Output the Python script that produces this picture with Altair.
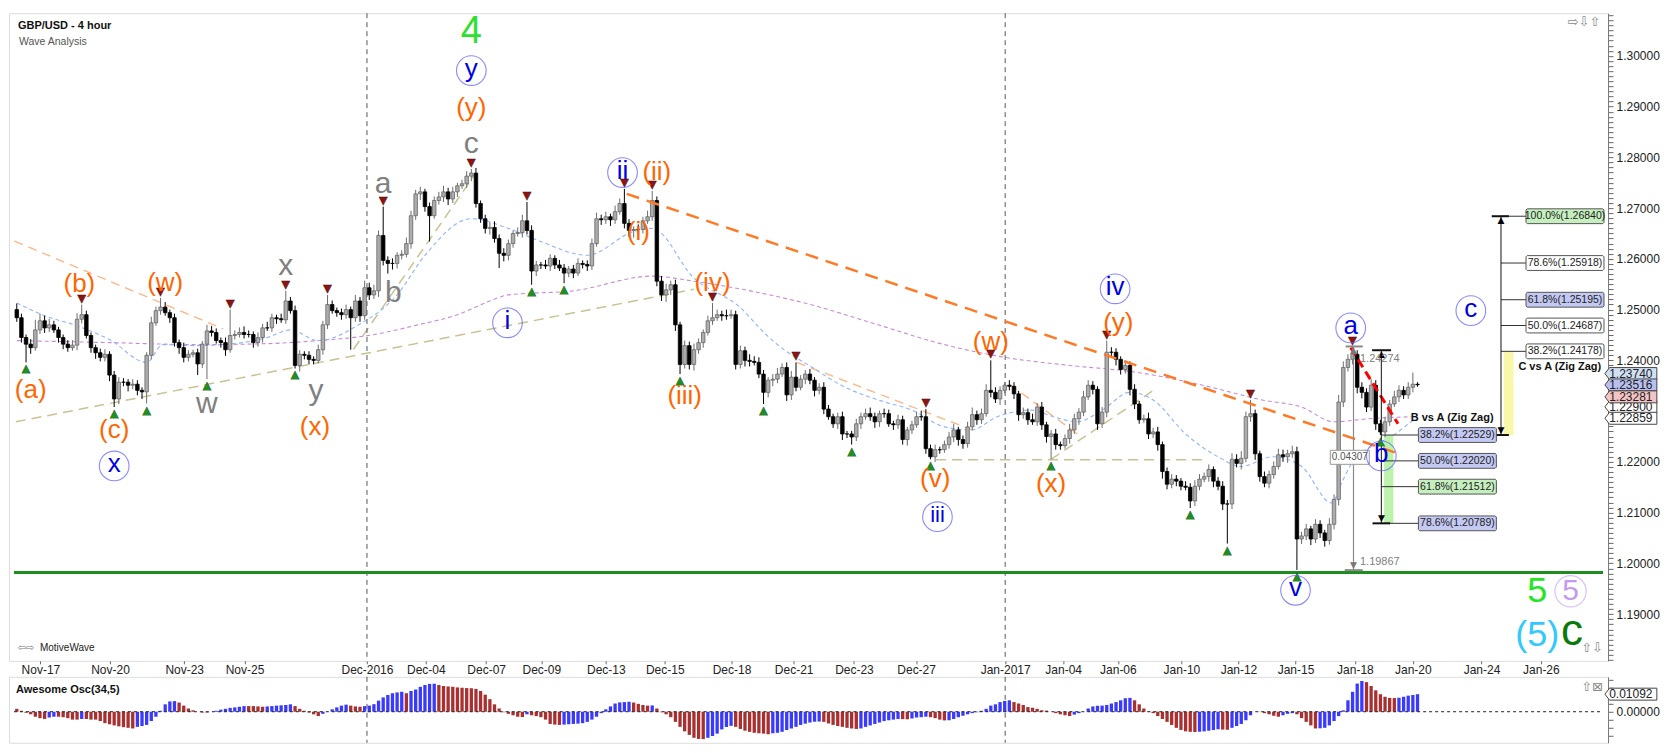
import altair as alt
import pandas as pd

BASE = 1.2
PIP = 0.0001
FIRST_OPEN = 500

# ---- candle closes, in pips above 1.2000 (one value per 4-hour candle) ----
close_pips = [
    484, 445, 432, 425, 460, 478, 464, 470, 460, 445,
    432, 425, 430, 481, 490, 449, 425, 415, 406, 412,
    371, 324, 357, 357, 351, 353, 341, 338, 410, 474,
    498, 505, 494, 484, 435, 425, 406, 412, 415, 393,
    432, 458, 455, 439, 435, 421, 449, 451, 455, 451,
    451, 435, 445, 464, 464, 484, 482, 480, 517, 498,
    390, 412, 410, 402, 400, 421, 470, 510, 498, 494,
    490, 500, 484, 517, 488, 543, 529, 537, 646, 597,
    591, 591, 607, 609, 630, 685, 728, 732, 703, 685,
    715, 722, 732, 718, 732, 744, 748, 763, 769, 709,
    679, 660, 662, 640, 611, 607, 630, 650, 652, 675,
    656, 576, 588, 588, 586, 601, 588, 582, 572, 580,
    572, 591, 589, 586, 630, 679, 677, 683, 677, 693,
    709, 670, 656, 658, 658, 675, 683, 715, 556, 529,
    539, 549, 470, 392, 429, 392, 421, 435, 455, 478,
    484, 490, 488, 488, 490, 392, 419, 400, 398, 396,
    373, 337, 361, 363, 373, 386, 332, 367, 347, 363,
    373, 361, 341, 347, 304, 289, 275, 289, 255, 255,
    249, 275, 289, 295, 289, 279, 295, 295, 275, 273,
    283, 244, 263, 273, 289, 289, 226, 210, 224, 224,
    234, 249, 263, 244, 236, 269, 293, 283, 295, 341,
    337, 324, 341, 351, 349, 334, 293, 297, 283, 279,
    308, 273, 250, 255, 234, 232, 246, 263, 285, 298,
    328, 351, 343, 275, 298, 416, 416, 402, 382, 390,
    343, 314, 283, 285, 255, 259, 234, 181, 156, 166,
    162, 152, 150, 123, 152, 166, 171, 185, 162, 152,
    117, 117, 205, 197, 207, 289, 295, 216, 171, 158,
    175, 191, 214, 210, 216, 220, 48, 54, 68, 48,
    77, 60, 45, 77, 126, 318, 386, 402, 412, 347,
    337, 308, 351, 275, 259, 279, 314, 328, 341, 332,
    347, 353, 352,
]
# upper wick length (pips above body top)
wick_up = [
    12, 8, 6, 10, 20, 14, 10, 12, 8, 6,
    6, 8, 10, 12, 20, 8, 6, 6, 8, 10,
    6, 8, 10, 8, 6, 10, 8, 6, 6, 12,
    8, 18, 10, 6, 8, 6, 10, 8, 6, 8,
    6, 12, 10, 8, 6, 10, 51, 8, 10, 12,
    8, 6, 10, 8, 12, 8, 6, 10, 20, 8,
    10, 8, 6, 8, 6, 10, 8, 19, 8, 6,
    8, 10, 6, 12, 8, 14, 10, 12, 10, 57,
    8, 10, 6, 8, 12, 10, 8, 10, 6, 8,
    8, 10, 12, 8, 10, 6, 8, 10, 8, 10,
    6, 8, 10, 12, 8, 10, 8, 6, 10, 12,
    37, 10, 8, 6, 10, 8, 6, 10, 8, 6,
    8, 10, 6, 8, 10, 12, 8, 10, 6, 12,
    10, 29, 8, 6, 10, 8, 12, 19, 8, 10,
    12, 8, 10, 6, 10, 8, 12, 8, 6, 10,
    29, 10, 8, 12, 10, 8, 10, 8, 12, 10,
    10, 8, 6, 10, 12, 8, 10, 12, 29, 8,
    8, 10, 6, 8, 10, 8, 6, 8, 10, 6,
    6, 10, 8, 10, 12, 8, 6, 10, 8, 6,
    10, 8, 6, 8, 10, 12, 15, 8, 10, 6,
    8, 10, 12, 6, 8, 10, 14, 8, 10, 12,
    59, 10, 8, 6, 10, 8, 6, 10, 8, 12,
    8, 10, 6, 8, 10, 6, 8, 12, 10, 8,
    12, 10, 8, 6, 10, 23, 10, 8, 6, 10,
    8, 10, 6, 8, 12, 8, 10, 6, 8, 10,
    8, 6, 10, 8, 12, 10, 8, 10, 6, 8,
    10, 8, 12, 10, 14, 10, 27, 8, 6, 10,
    8, 10, 12, 10, 8, 12, 10, 8, 10, 6,
    10, 8, 6, 12, 10, 14, 12, 10, 15, 8,
    10, 8, 12, 10, 8, 10, 8, 12, 10, 8,
    10, 23, 4,
]
# lower wick length (pips below body bottom)
wick_dn = [
    8, 10, 36, 12, 6, 8, 10, 8, 6, 10,
    10, 8, 6, 10, 8, 6, 10, 12, 8, 8,
    12, 16, 10, 8, 12, 8, 10, 14, 23, 8,
    6, 8, 6, 10, 8, 12, 10, 8, 6, 22,
    8, 69, 8, 6, 10, 12, 6, 8, 6, 8,
    6, 10, 8, 10, 6, 8, 10, 6, 8, 6,
    6, 12, 8, 10, 8, 6, 10, 8, 6, 8,
    10, 8, 63, 8, 12, 8, 10, 8, 12, 10,
    20, 12, 10, 8, 6, 10, 8, 12, 10, 51,
    6, 8, 10, 12, 8, 10, 6, 8, 10, 8,
    8, 10, 12, 8, 29, 12, 10, 8, 6, 10,
    8, 27, 10, 8, 6, 10, 8, 6, 20, 8,
    10, 6, 8, 10, 8, 6, 10, 8, 12, 8,
    6, 10, 12, 14, 10, 8, 6, 8, 10, 12,
    14, 10, 12, 19, 8, 10, 12, 8, 10, 6,
    8, 6, 10, 8, 6, 10, 8, 12, 10, 6,
    8, 23, 10, 12, 8, 6, 12, 10, 8, 6,
    10, 8, 12, 8, 10, 6, 8, 10, 12, 8,
    15, 8, 10, 6, 8, 12, 10, 8, 6, 10,
    8, 10, 12, 8, 6, 8, 10, 5, 10, 8,
    6, 8, 10, 12, 10, 8, 6, 10, 8, 6,
    10, 8, 12, 6, 8, 10, 12, 8, 10, 6,
    8, 10, 12, 45, 10, 8, 6, 10, 8, 12,
    8, 6, 10, 12, 8, 10, 8, 12, 10, 8,
    12, 10, 8, 6, 10, 8, 12, 14, 10, 8,
    10, 8, 6, 14, 10, 8, 6, 10, 12, 8,
    12, 78, 10, 8, 12, 8, 10, 12, 10, 8,
    10, 8, 6, 10, 12, 8, 61, 10, 8, 12,
    8, 10, 12, 8, 10, 12, 10, 8, 10, 12,
    12, 10, 8, 12, 6, 10, 8, 6, 10, 8,
    8, 10, 4,
]
# Awesome oscillator, units of 0.0001
ao_e4 = [
    18, 6, -7, -16, -31, -40, -45, -36, -31, -31,
    -34, -40, -49, -49, -45, -45, -49, -49, -58, -71,
    -78, -85, -91, -96, -100, -104, -94, -89, -82, -58,
    -31, 6, 46, 64, 66, 57, 38, 20, 9, 0,
    -5, -5, 0, 6, 13, 18, 24, 27, 31, 35,
    35, 35, 33, 31, 33, 35, 38, 40, 42, 46,
    35, 18, 6, -5, -16, -27, -13, 0, 15, 27,
    38, 44, 38, 33, 31, 35, 38, 47, 69, 89,
    104, 115, 120, 124, 115, 129, 138, 155, 166, 173,
    174, 166, 160, 157, 155, 151, 149, 147, 146, 142,
    129, 106, 78, 46, 20, -3, -13, -22, -31, -33,
    -16, -22, -27, -34, -49, -76, -80, -82, -80, -78,
    -76, -74, -71, -63, -49, -31, -9, 15, 33, 51,
    58, 60, 62, 57, 49, 42, 38, 39, 20, -3,
    -16, -34, -63, -94, -122, -144, -162, -169, -170, -162,
    -151, -136, -110, -95, -88, -94, -107, -118, -125, -131,
    -134, -136, -140, -134, -131, -125, -114, -104, -94, -82,
    -74, -67, -62, -61, -63, -73, -82, -89, -94, -100,
    -104, -107, -104, -94, -85, -76, -67, -58, -53, -49,
    -45, -46, -47, -42, -36, -34, -31, -34, -40, -49,
    -54, -53, -45, -34, -25, -16, -9, -3, 6, 18,
    38, 46, 60, 67, 71, 60, 51, 42, 29, 24,
    18, 9, 7, 0, -9, -16, -22, -27, -18, -9,
    0, 20, 33, 37, 38, 42, 51, 60, 71, 84,
    86, 71, 46, 20, 2, -9, -27, -45, -63, -82,
    -100, -113, -122, -125, -126, -124, -122, -118, -114, -109,
    -111, -112, -100, -89, -76, -53, -22, 0, -1, -9,
    -16, -25, -31, -22, -13, -9, -16, -40, -63, -85,
    -104, -103, -100, -85, -58, -27, 9, 71, 124, 175,
    191, 184, 160, 133, 109, 93, 86, 85, 87, 93,
    100, 104, 109,
]

# moving averages (candle index, pips)
blue_ma_i = [0, 6, 13, 20, 28, 31.5, 39, 44, 48.7, 54, 59, 65, 73.7, 82, 88, 98, 106, 113, 123, 133,
             137, 146, 156, 161.5, 164, 171.5, 178.6, 185.7, 193, 200, 205.8, 211.4, 218.6, 223.5, 228.5,
             234, 240, 245, 252, 259, 264, 270.7, 277, 283.5, 285.6, 287.8, 292, 296.4, 300.6, 302]
blue_ma_p = [513, 488, 468, 441, 396, 431, 429, 431, 435, 445, 460, 439, 470, 529, 607, 679, 660, 634, 607, 654,
             660, 562, 504, 451, 431, 386, 347, 322, 302, 269, 263, 289, 302, 289, 279,
             302, 337, 322, 255, 210, 191, 210, 191, 119, 158, 197, 230, 250, 279, 289]
purple_ma_i = [0, 20, 39, 54, 65, 75.8, 86.5, 95, 102, 106, 120, 137, 146, 157, 171.5, 185.7, 200, 213,
               227, 241, 255.7, 268.5, 277, 284, 291.4, 300.6]
purple_ma_p = [439, 435, 431, 433, 439, 449, 470, 490, 517, 529, 537, 566, 556, 539, 509, 470, 431, 406,
               390, 377, 351, 322, 308, 279, 285, 289]

# trend lines (i1, pips1, i2, pips2)
tan_lines = [(-0.2, 279, 146, 540), (72.6, 422, 98.6, 764), (198.2, 204, 256.3, 204), (223, 205, 245.4, 343)]
light_orange_lines = [(-0.5, 635, 44.5, 462), (168.2, 396, 207.1, 259), (214, 353, 229, 253)]
orange_lines = [(131.5, 728, 298, 216)]
red_lines = [(287.6, 425, 297.8, 275)]
support_level = 1.1982

# x-axis
tick_pos = [5.1, 20.1, 36.1, 49.1, 75.5, 88.2, 101.2, 113.1, 127.0, 139.7, 154.1, 167.5,
            180.5, 193.9, 213.1, 225.6, 237.4, 251.1, 263.4, 275.7, 288.5, 301.0, 315.8, 328.6]
tick_lbl = ["Nov-17", "Nov-20", "Nov-23", "Nov-25", "Dec-2016", "Dec-04", "Dec-07", "Dec-09",
            "Dec-13", "Dec-15", "Dec-18", "Dec-21", "Dec-23", "Dec-27", "Jan-2017", "Jan-04",
            "Jan-06", "Jan-10", "Jan-12", "Jan-15", "Jan-18", "Jan-20", "Jan-24", "Jan-26"]
divider_i = [75.5, 213.1]

# swing markers
low_idx = [2, 21, 28, 41, 60, 111, 118, 143, 161, 180, 197, 223, 253, 261, 276, 294]
high_idx = [14, 31, 46, 58, 67, 79, 98, 110, 131, 137, 150, 168, 196, 210, 235, 266, 288]

# wave labels
orange_t = ["(a)", "(b)", "(c)", "(w)", "(x)", "(y)", "(i)", "(ii)", "(iii)", "(iv)", "(v)", "(w)", "(x)", "(y)"]
orange_i = [3, 13.5, 21, 32, 64.3, 98, 134, 138, 144, 150, 198, 210, 223, 237.5]
orange_p = [341, 550, 263, 552, 269, 898, 653, 772, 330, 553, 166, 436, 156, 474]
gray_t = ["w", "x", "y", "a", "b", "c"]
gray_i = [41, 58, 64.5, 79, 81.2, 98]
gray_p = [310, 582, 335, 743, 529, 822]
circ_t = ["x", "y", "i", "ii", "iii", "iv", "v", "a", "b", "c"]
circ_i = [21, 98, 105.8, 130.6, 198.5, 236.8, 275.7, 287.6, 294.2, 313.5]
circ_p = [192, 971, 474, 770, 92, 541, -53, 464, 212, 498]

# fibonacci projections
cva_levels = [1.26840, 1.25918, 1.25195, 1.24687, 1.24178]
cva_text = ["100.0%(1.26840)", "78.6%(1.25918)", "61.8%(1.25195)", "50.0%(1.24687)", "38.2%(1.24178)"]
cva_fill = ["#c6efbf", "#ffffff", "#c3c9f3", "#ffffff", "#ffffff"]
bva_levels = [1.22529, 1.22020, 1.21512, 1.20789]
bva_text = ["38.2%(1.22529)", "50.0%(1.22020)", "61.8%(1.21512)", "78.6%(1.20789)"]
bva_fill = ["#c3c9f3", "#c3c9f3", "#c6efbf", "#c3c9f3"]
measure_top, measure_bot, measure_txt = 1.24274, 1.19867, "0.04307"

# price tags
tag_vals = [1.23740, 1.23516, 1.23281, 1.22859]
tag_fill = ["#cfe0f4", "#b9c0f0", "#f4c4c4", "#ffffff"]
tag_hidden = 1.22900
ao_tag = 0.01092

# ------------------------------------------------------------------
W, H, HO = 1600, 648, 66
XMAX = 342.0
TAGX = 348.0
FONT = "Liberation Sans"
XS = alt.Scale(domain=[-0.6, XMAX], nice=False, zero=False)
YS = alt.Scale(domain=[1.1808, 1.3084], nice=False, zero=False)
OS = alt.Scale(domain=[-0.0193, 0.0217], nice=False, zero=False)

xexpr = ("[" + ",".join(f"'{s}'" for s in tick_lbl) + "][indexof([" +
         ",".join(str(int(round(v * 10))) for v in tick_pos) + "], round(datum.value*10))]")
yticks = [round(1.181 + k * 0.001, 3) for k in range(128)]
yexpr = ("(abs(datum.value*100 - round(datum.value*100)) < 0.01 && abs(datum.value - 1.23) > 0.0005)"
         " ? format(datum.value, '.5f') : ''")

X_AXIS = alt.Axis(values=tick_pos, labelExpr=xexpr, title=None, grid=False, domain=False, tickSize=3,
                  tickColor="#666", labelFont=FONT, labelFontSize=12, labelColor="#222", labelPadding=1,
                  labelFlush=False, labelOverlap=False)
Y_AXIS = alt.Axis(orient="right", values=yticks, labelExpr=yexpr, title=None, grid=False, domainColor="#777",
                  tickSize=5, tickColor="#666", labelFont=FONT, labelFontSize=12, labelColor="#222",
                  labelPadding=3, labelFlush=False, labelOverlap=False)
O_AXIS = alt.Axis(orient="right", values=[-0.015, -0.01, -0.005, 0, 0.005, 0.01, 0.015, 0.02],
                  labelExpr="datum.value == 0 ? '0.00000' : ''", title=None, grid=False, domainColor="#777",
                  tickSize=5, tickColor="#666", labelFont=FONT, labelFontSize=12, labelColor="#222",
                  labelPadding=3, labelOverlap=False, labelFlush=False)


def px(v):
    return BASE + v * PIP


def xq(f="i"):
    return alt.X(f"{f}:Q", scale=XS, axis=X_AXIS)


def yq(f="p"):
    return alt.Y(f"{f}:Q", scale=YS, axis=Y_AXIS)


def oxq(f="i"):
    return alt.X(f"{f}:Q", scale=XS, axis=None)


def oyq(f="v"):
    return alt.Y(f"{f}:Q", scale=OS, axis=O_AXIS)


n = min(len(close_pips), len(wick_up), len(wick_dn))
rows = []
prev = FIRST_OPEN
for k in range(n):
    o, c = prev, close_pips[k]
    top, bot = max(o, c), min(o, c)
    up = c > o
    rows.append({"i": k, "btop": px(top), "bbot": px(bot), "hi": px(top + wick_up[k]),
                 "lo": px(bot - wick_dn[k]),
                 "wc": "#6c6c6c" if up else "#000000",
                 "bf": "#adadad" if up else "#000000",
                 "bs": "#666666" if up else "#000000"})
    prev = c
candles = pd.DataFrame(rows)


def seg_layer(segs, color, width, dash):
    r = []
    for k, (a, b, c, d) in enumerate(segs):
        r.append({"s": k, "i": a, "p": px(b)})
        r.append({"s": k, "i": c, "p": px(d)})
    return alt.Chart(pd.DataFrame(r)).mark_line(color=color, strokeWidth=width, strokeDash=dash).encode(
        x=xq(), y=yq(), detail="s:N")


def ma_layer(ii, pp, color):
    df = pd.DataFrame({"i": ii, "p": [px(v) for v in pp]})
    return alt.Chart(df).mark_line(color=color, strokeWidth=1.1, strokeDash=[4, 3],
                                   interpolate="monotone").encode(x=xq(), y=yq())


def label_layer(tt, ii, pp, color, size, dy=0, weight="normal"):
    df = pd.DataFrame({"t": tt, "i": ii, "p": [px(v) for v in pp]})
    return alt.Chart(df).mark_text(font=FONT, fontSize=size, color=color, baseline="middle", align="center",
                                   dy=dy, fontWeight=weight).encode(x=xq(), y=yq(), text="t:N")


def ptext(t, x, y, size=11, color="#000", align="left", weight="normal", font=FONT):
    return alt.Chart(pd.DataFrame({"t": [t]})).mark_text(
        font=font, fontSize=size, color=color, align=align, baseline="middle", fontWeight=weight).encode(
        x=alt.value(x), y=alt.value(y), text="t:N")


def hrules(rows_, color, width=1.0):
    df = pd.DataFrame(rows_, columns=["i1", "i2", "p"])
    return alt.Chart(df).mark_rule(color=color, strokeWidth=width).encode(x=xq("i1"), x2="i2:Q", y=yq())


def vrules(rows_, color, width=1.0):
    df = pd.DataFrame(rows_, columns=["i", "p1", "p2"])
    return alt.Chart(df).mark_rule(color=color, strokeWidth=width).encode(x=xq(), y=yq("p1"), y2="p2:Q")


def arrows(rows_, color, char, baseline):
    df = pd.DataFrame(rows_, columns=["i", "p"])
    return alt.Chart(df).mark_text(text=char, font="DejaVu Sans", fontSize=9, color=color,
                                   baseline=baseline).encode(x=xq(), y=yq())


layers = []
# background trend lines and averages
layers.append(seg_layer(tan_lines, "#cbc292", 1.5, [10, 6]))
layers.append(seg_layer(light_orange_lines, "#ffb485", 1.3, [9, 6]))
layers.append(ma_layer(purple_ma_i, purple_ma_p, "#c88ad8"))
layers.append(ma_layer(blue_ma_i, blue_ma_p, "#8fb4ff"))
layers.append(alt.Chart(pd.DataFrame({"i": divider_i})).mark_rule(
    color="#555", strokeDash=[5, 4], strokeWidth=1).encode(x=xq(), y=alt.value(0), y2=alt.value(H)))
layers.append(hrules([(-0.6, XMAX, support_level)], "#1e8c1e", 3))

# fib background bars
bars_df = pd.DataFrame({"i1": [320.6, 294.8], "i2": [322.7, 296.8],
                        "p1": [1.22529, 1.20789], "p2": [1.24178, 1.22529],
                        "c": ["#f8f8a8", "#bdf2ad"]})
layers.append(alt.Chart(bars_df).mark_rect().encode(x=xq("i1"), x2="i2:Q", y=yq("p1"), y2="p2:Q",
                                                   color=alt.Color("c:N", scale=None)))

# candles
layers.append(alt.Chart(candles).mark_rule(strokeWidth=1).encode(
    x=xq(), y=yq("lo"), y2="hi:Q", color=alt.Color("wc:N", scale=None)))
layers.append(alt.Chart(candles).mark_bar(size=3.5, strokeWidth=0.8).encode(
    x=xq(), y=yq("bbot"), y2="btop:Q",
    fill=alt.Fill("bf:N", scale=None), stroke=alt.Stroke("bs:N", scale=None)))

# foreground trend lines
layers.append(seg_layer(orange_lines, "#ff7a26", 2.5, [13, 8]))
layers.append(seg_layer(red_lines, "#ff0000", 3, [9, 5]))

# fib level lines
cva_rows = [(320, 326, v) for v in cva_levels]
bva_rows = [(294.2, 302.7, v) for v in bva_levels]
layers.append(hrules(cva_rows + bva_rows, "#333333", 1))
layers.append(vrules([(320, 1.22529, 1.26840), (294.2, 1.20789, 1.2420)], "#111111", 1))
layers.append(vrules([(288.2, measure_bot, measure_top)], "#8a8a8a", 1.2))
caps = [(318.0, 321.7, 1.26840), (318.8, 321.7, 1.22529), (292.2, 296.3, 1.2420), (292.3, 296.1, 1.20789)]
layers.append(hrules(caps, "#111111", 2))
layers.append(hrules([(286.5, 290.2, measure_top), (286.3, 290.2, measure_bot)], "#8a8a8a", 2))
layers.append(arrows([(320, 1.26840), (294.2, 1.2420)], "#000", "▲", "top"))
layers.append(arrows([(320, 1.22529), (294.2, 1.20789)], "#000", "▼", "bottom"))
layers.append(arrows([(288.2, measure_top)], "#777", "▲", "top"))
layers.append(arrows([(288.2, measure_bot)], "#777", "▼", "bottom"))

# swing markers
lows = candles.loc[low_idx, ["i", "lo"]]
highs = candles.loc[high_idx, ["i", "hi"]]
layers.append(alt.Chart(lows).mark_text(text="▲", font="DejaVu Sans", fontSize=11, color="#1f8f1f",
                                        stroke="#0d3d0d", strokeWidth=0.4, baseline="top", dy=1).encode(
    x=xq(), y=yq("lo")))
layers.append(alt.Chart(highs).mark_text(text="▼", font="DejaVu Sans", fontSize=11, color="#8e1414",
                                         stroke="#3d0808", strokeWidth=0.4, baseline="bottom", dy=-1).encode(
    x=xq(), y=yq("hi")))

# fib boxes
BOX = "M-0.97,-0.19L0.97,-0.19L1,-0.16L1,0.16L0.97,0.19L-0.97,0.19L-1,0.16L-1,-0.16Z"
box_df = pd.DataFrame({"i": [333.8] * len(cva_levels) + [310.6] * len(bva_levels),
                       "p": cva_levels + bva_levels, "t": cva_text + bva_text,
                       "f": cva_fill + bva_fill})
layers.append(alt.Chart(box_df).mark_point(shape=BOX, size=6084, filled=True, stroke="#555",
                                           strokeWidth=1, opacity=1).encode(
    x=xq(), y=yq(), fill=alt.Fill("f:N", scale=None)))
layers.append(alt.Chart(box_df).mark_text(font=FONT, fontSize=10.5, color="#222", baseline="middle").encode(
    x=xq(), y=yq(), text="t:N"))
layers.append(alt.Chart(pd.DataFrame({"t": ["C vs A (Zig Zag)", "B vs A (Zig Zag)"], "i": [341.6, 318.4],
                                      "p": [1.23863, 1.22867]})).mark_text(
    font=FONT, fontSize=11, fontWeight="bold", align="right", baseline="middle", color="#111").encode(
    x=xq(), y=yq(), text="t:N"))

# measurement
MBOX = "M-1,-0.36L1,-0.36L1,0.36L-1,0.36Z"
mdf = pd.DataFrame({"i": [287.4], "p": [1.2209], "t": [measure_txt]})
layers.append(alt.Chart(mdf).mark_point(shape=MBOX, size=1521, filled=True, color="#ffffff",
                                        stroke="#999", strokeWidth=1, opacity=1).encode(x=xq(), y=yq()))
layers.append(alt.Chart(mdf).mark_text(font=FONT, fontSize=10, color="#555").encode(x=xq(), y=yq(), text="t:N"))
layers.append(alt.Chart(pd.DataFrame({"t": [f"{measure_top:.5f}", f"{measure_bot:.5f}"], "i": [289.6, 289.6],
                                      "p": [1.2402, 1.2002]})).mark_text(
    font=FONT, fontSize=11, color="#808080", align="left", baseline="middle").encode(x=xq(), y=yq(), text="t:N"))

# wave labels
layers.append(label_layer(orange_t, orange_i, orange_p, "#ff6600", 26))
layers.append(label_layer(gray_t, gray_i, gray_p, "#808080", 30, dy=-2))
circ_df = pd.DataFrame({"t": circ_t, "i": circ_i, "p": [px(v) for v in circ_p],
                        "fs": [22 if t == "iii" else 26 for t in circ_t]})
layers.append(alt.Chart(circ_df).mark_point(shape="circle", size=880, filled=False, color="#5a5aff",
                                            strokeWidth=1.1).encode(x=xq(), y=yq()))
layers.append(alt.Chart(circ_df).mark_text(font=FONT, color="#0000e6", baseline="middle", dy=-2).encode(
    x=xq(), y=yq(), text="t:N", size=alt.Size("fs:Q", scale=None)))
layers.append(label_layer(["4"], [98], [1047], "#2ee02e", 38))
layers.append(label_layer(["5"], [327.8], [-55], "#22e622", 36))
layers.append(alt.Chart(pd.DataFrame({"i": [335.0], "p": [px(-55)]})).mark_point(
    shape="circle", size=980, filled=False, color="#c9a6f5", strokeWidth=1.2).encode(x=xq(), y=yq()))
layers.append(label_layer(["5"], [335.0], [-55], "#c49af0", 30))
layers.append(label_layer(["(5)"], [327.8], [-141], "#33c8ff", 36))
layers.append(label_layer(["c"], [335.3], [-141], "#0a7a0a", 44, dy=-3))

# price tags at the axis
TAG = "M-1,0L-0.82,-0.23L1,-0.23L1,0.23L-0.82,0.23Z"
TAG_UP = "M-1,-0.36L-0.82,-0.59L1,-0.59L1,-0.13L-0.82,-0.13Z"
hid_df = pd.DataFrame({"i": [TAGX], "p": [tag_hidden], "t": [f"{tag_hidden:.5f}"]})
layers.append(alt.Chart(hid_df).mark_point(shape=TAG_UP, size=2704, filled=True, color="#ffffff",
                                           stroke="#444", strokeWidth=1, opacity=1).encode(x=xq(), y=yq()))
layers.append(alt.Chart(hid_df).mark_text(font=FONT, fontSize=12, color="#222", dy=-9).encode(
    x=xq(), y=yq(), text="t:N"))
tag_df = pd.DataFrame({"i": [TAGX] * len(tag_vals), "p": tag_vals, "f": tag_fill,
                       "t": [f"{v:.5f}" for v in tag_vals]})
layers.append(alt.Chart(tag_df).mark_point(shape=TAG, size=2704, filled=True, stroke="#444",
                                           strokeWidth=1, opacity=1).encode(
    x=xq(), y=yq(), fill=alt.Fill("f:N", scale=None)))
layers.append(alt.Chart(tag_df).mark_text(font=FONT, fontSize=12, color="#222").encode(
    x=xq(), y=yq(), text="t:N"))

# chrome texts
layers.append(ptext("GBP/USD - 4 hour", 9, 13, size=11, weight="bold", color="#111"))
layers.append(ptext("Wave Analysis", 10, 29, size=10.5, color="#555"))
layers.append(ptext("⇨⇩⇧", 1576, 9, size=13, color="#8a8a8a", align="center", font="DejaVu Sans"))
layers.append(ptext("⇧⇩", 1584, 635, size=13, color="#8a8a8a", align="center", font="DejaVu Sans"))
layers.append(ptext("⇦⇨", 17, 635, size=10, color="#777", align="center", font="DejaVu Sans"))
layers.append(ptext("MotiveWave", 31, 635, size=10, color="#222"))

main = alt.layer(*layers).properties(width=W, height=H)

# ---- oscillator panel ----
m = len(ao_e4)
ao_col = []
for k in range(m):
    ao_col.append("#3a3aff" if k > 0 and ao_e4[k] > ao_e4[k - 1] else "#a83030")
ao_df = pd.DataFrame({"i": list(range(m)), "v": [v * 1e-4 for v in ao_e4], "zero": [0.0] * m, "col": ao_col})
olayers = [
    alt.Chart(pd.DataFrame({"i": divider_i})).mark_rule(color="#555", strokeDash=[5, 4]).encode(
        x=oxq(), y=alt.value(0), y2=alt.value(HO)),
    alt.Chart(ao_df).mark_bar(size=3.3).encode(
        x=oxq(), y=oyq(), y2="zero:Q", color=alt.Color("col:N", scale=None)),
    alt.Chart(pd.DataFrame({"i1": [-0.6], "i2": [XMAX], "v": [0.0]})).mark_rule(
        color="#222", strokeDash=[3, 3], strokeWidth=1).encode(x=oxq("i1"), x2="i2:Q", y=oyq()),
    alt.Chart(pd.DataFrame({"i": [TAGX], "v": [ao_tag]})).mark_point(
        shape=TAG, size=2704, filled=True, color="#ffffff", stroke="#444", strokeWidth=1, opacity=1).encode(
        x=oxq(), y=oyq()),
    alt.Chart(pd.DataFrame({"i": [TAGX], "v": [ao_tag], "t": [f"{ao_tag:.5f}"]})).mark_text(
        font=FONT, fontSize=12, color="#222").encode(x=oxq(), y=oyq(), text="t:N"),
    ptext("Awesome Osc(34,5)", 7, 13, size=11, weight="bold", color="#111"),
    ptext("⇧⊠", 1584, 10, size=13, color="#8a8a8a", align="center", font="DejaVu Sans"),
]
osc = alt.layer(*olayers).properties(width=W, height=HO)

chart = alt.vconcat(main, osc, spacing=-6).properties(
    padding={"left": 0, "top": 0, "right": 0, "bottom": 0}
).configure_view(stroke="#7a7a7a", strokeWidth=1).configure(background="#ffffff")

chart.save("out.html", embed_options={"renderer": "svg", "actions": False})
